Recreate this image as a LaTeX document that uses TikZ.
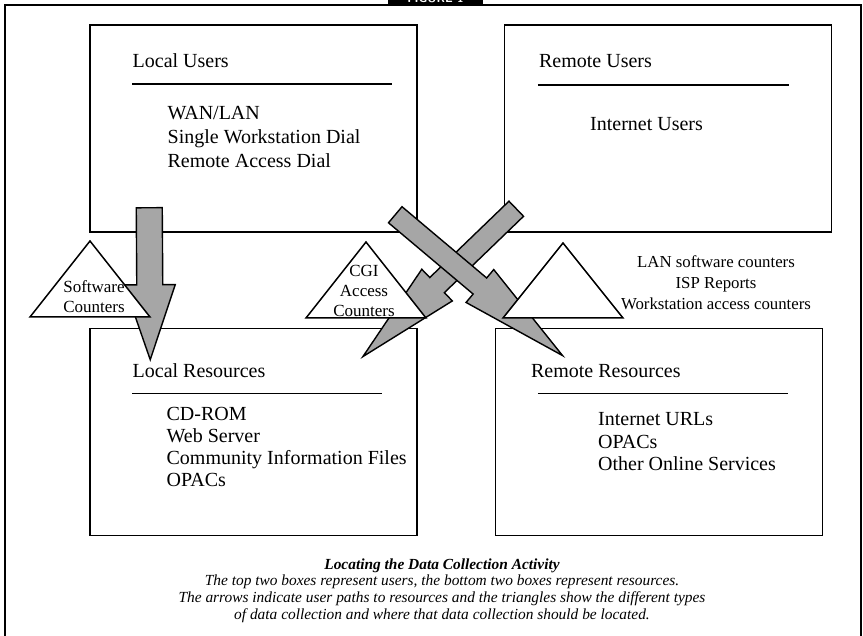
\documentclass[tikz,border=0pt]{standalone}
\usepackage{fontspec}
\setmainfont{Liberation Serif}
\usepackage{tikz}
\usetikzlibrary{positioning, calc}

% wide filled arrow: tail, tip, head length, shaft width, head width
\newcommand{\fatarrow}[5]{%
  \path let \p1=(#1), \p2=(#2) in
    \pgfextra{%
      \pgfmathsetmacro{\fatang}{atan2((\y2)-(\y1),(\x2)-(\x1))}%
      \pgfmathsetmacro{\fatlen}{veclen((\x2)-(\x1),(\y2)-(\y1))}%
      \xdef\fatang{\fatang}\xdef\fatlen{\fatlen}};
  \filldraw[bigarrow, shift={(#1)}, rotate=\fatang]
    (0pt,#4/2) -- ({\fatlen pt-#3},#4/2) -- ({\fatlen pt-#3},#5/2)
    -- (\fatlen pt,0pt) -- ({\fatlen pt-#3},-#5/2) -- ({\fatlen pt-#3},-#4/2)
    -- (0pt,-#4/2) -- cycle;
}

\begin{document}
\begin{tikzpicture}[
        x=0.5pt, y=-0.5pt,
        box/.style={rectangle, draw=black, line width=0.75pt, minimum width=163.5pt, minimum height=103.5pt, inner sep=0pt},
        head/.style={anchor=base west, inner sep=0pt, font=\fontsize{10}{12}\selectfont},
        items/.style={anchor=base west, inner sep=0pt, align=left, font=\fontsize{10}{12}\selectfont},
        rule/.style={line width=0.75pt},
        bigarrow/.style={draw=black, line width=0.7pt, fill=black!35, line join=miter},
        pyramid/.style={draw=black, line width=0.75pt, fill=white},
        tritext/.style={align=center, anchor=base, inner sep=0pt, font=\fontsize{8.5}{10.2}\selectfont},
        caption/.style={align=center, anchor=base, inner sep=0pt, font=\itshape\fontsize{7.7}{8.3}\selectfont}
    ]
    \useasboundingbox (0,0) rectangle (863,636);

    % 1. Frame and tab
    \draw[line width=1pt] (5,660) -- (5,5) -- (861,5) -- (861,660);
    \node[fill=black, text=white, minimum width=47.5pt, minimum height=7pt, inner sep=0pt,
          font=\sffamily\bfseries\fontsize{6}{6}\selectfont] (figtab) at (435.5,-2) {FIGURE 1};

    % 2. The four boxes
    \node[box] (lu) at (253.5,128.5) {};
    \node[box, right=43pt of lu] (ru) {};
    \node[box, below=47.5pt of lu] (lr) {};
    \node[box, below=47.5pt of ru, xshift=-4.5pt] (rr) {};

    % box contents (multi-line nodes sit on their last baseline)
    \node[head] (luhead) at ($(lu.north west)+(43,43)$) {Local Users};
    \draw[rule] ($(lu.north west)+(43,60)$) -- ($(lu.north west)+(303,60)$);
    \node[items] (luitems) at ($(lu.north west)+(78,143)$) {WAN/LAN\\Single Workstation Dial\\Remote Access Dial};

    \node[head] (ruhead) at ($(ru.north west)+(35,43)$) {Remote Users};
    \draw[rule] ($(ru.north west)+(34,61)$) -- ($(ru.north west)+(285,61)$);
    \node[items] (ruitems) at ($(ru.north west)+(86,106)$) {Internet Users};

    \node[head] (lrhead) at ($(lr.north west)+(43,50)$) {Local Resources};
    \draw[rule] ($(lr.north west)+(43,66)$) -- ($(lr.north west)+(293,66)$);
    \node[items, font=\fontsize{10}{11}\selectfont] (lritems) at ($(lr.north west)+(77,159)$) {CD-ROM\\Web Server\\Community Information Files\\OPACs};

    \node[head] (rrhead) at ($(rr.north west)+(36,50)$) {Remote Resources};
    \draw[rule] ($(rr.north west)+(43,66)$) -- ($(rr.north west)+(293,66)$);
    \node[items, font=\fontsize{10}{11.25}\selectfont] (rritems) at ($(rr.north west)+(103,143)$) {Internet URLs\\OPACs\\Other Online Services};

    % 3. User paths (wide arrows)
    \coordinate (lutail) at ($(lu.south west)+(60,-25)$);
    \coordinate (lrtip) at ($(lr.north west)+(61,32)$);
    \coordinate (rutail) at ($(ru.south west)+(12.5,-24)$);
    \coordinate (cgitip) at ($(lr.north east)+(-55,29)$);
    \coordinate (crosstail) at ($(lu.south east)+(-22.5,-18)$);
    \coordinate (rrtip) at ($(rr.north west)+(68,28)$);

    \fatarrow{lutail}{lrtip}{37.5pt}{13pt}{25.5pt}
    \fatarrow{rutail}{cgitip}{51.5pt}{10.5pt}{22pt}
    \fatarrow{crosstail}{rrtip}{54pt}{10.5pt}{21.5pt}

    % 4. Data collection points (triangles)
    \filldraw[pyramid] (90,241) -- (150,317) -- (30,317) -- cycle;
    \filldraw[pyramid] (366,242) -- (426,318) -- (306,318) -- cycle;
    \filldraw[pyramid] (563,243) -- (623,318) -- (503,318) -- cycle;

    \node[tritext] (swcount) at (94,313) {Software\\Counters};
    \node[tritext] (cgicount) at (364,317) {CGI\\Access\\Counters};
    \node[tritext, font=\fontsize{8.4}{10.5}\selectfont] (lancount) at (716,310) {LAN software counters\\ISP Reports\\Workstation access counters};

    % 5. Caption
    \node[caption] (capt) at (442,619) {{\bfseries Locating the Data Collection Activity}\\The top two boxes represent users, the bottom two boxes represent resources.\\The arrows indicate user paths to resources and the triangles show the different types\\of data collection and where that data collection should be located.};

\end{tikzpicture}
\end{document}
